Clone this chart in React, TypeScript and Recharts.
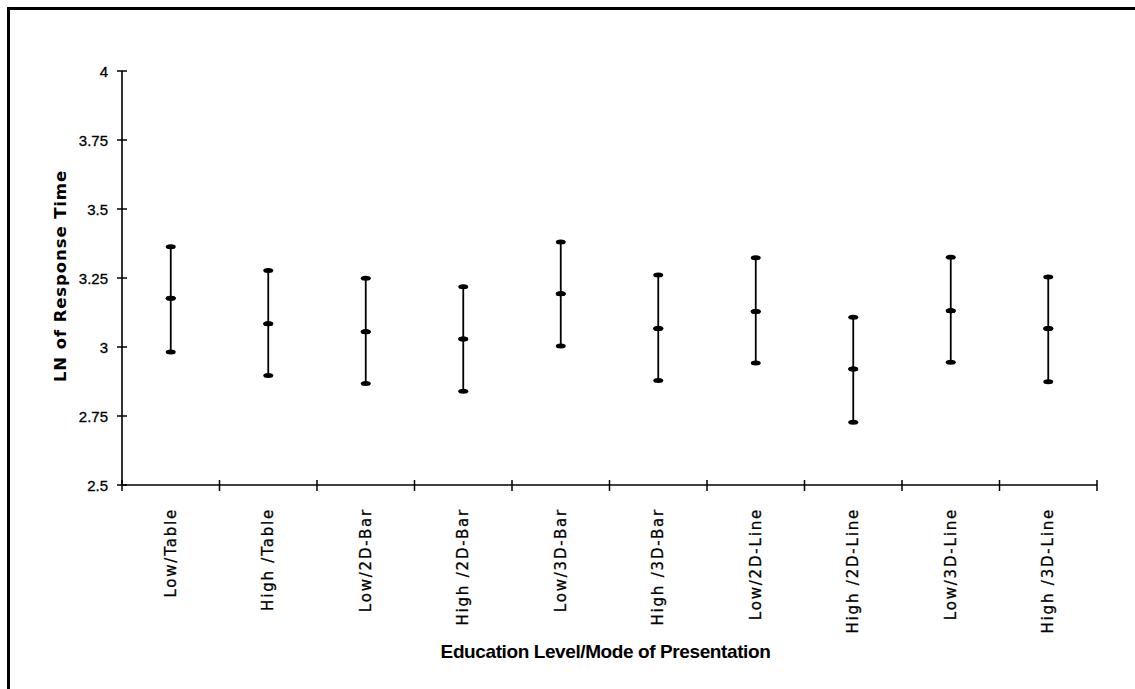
import React from "react";
import { ScatterChart, Scatter, XAxis, YAxis, ErrorBar, Label } from "recharts";

const categories = [
  "Low/Table",
  "High /Table",
  "Low/2D-Bar",
  "High /2D-Bar",
  "Low/3D-Bar",
  "High /3D-Bar",
  "Low/2D-Line",
  "High /2D-Line",
  "Low/3D-Line",
  "High /3D-Line",
];
const means = [3.177, 3.084, 3.055, 3.029, 3.193, 3.067, 3.129, 2.92, 3.131, 3.067];
const lows = [2.982, 2.897, 2.868, 2.84, 3.004, 2.879, 2.942, 2.727, 2.945, 2.874];
const highs = [3.363, 3.277, 3.249, 3.218, 3.38, 3.261, 3.323, 3.108, 3.325, 3.254];
const yTicks = [2.5, 2.75, 3, 3.25, 3.5, 3.75, 4];
const xTitle = "Education Level/Mode of Presentation";
const yTitle = "LN of Response Time";

const meanData = categories.map((c, i) => ({
  x: i + 0.5,
  y: means[i],
  err: [means[i] - lows[i], highs[i] - means[i]],
}));
const lowData = categories.map((c, i) => ({ x: i + 0.5, y: lows[i] }));
const highData = categories.map((c, i) => ({ x: i + 0.5, y: highs[i] }));
const xTickValues: number[] = [];
for (let i = 0; i <= categories.length * 2; i++) xTickValues.push(i / 2);

const Cap = (props: any) => {
  const { cx, cy } = props;
  if (cx == null || cy == null) return null;
  return <ellipse cx={cx} cy={cy} rx={5} ry={2.5} fill="#000" />;
};

const XTick = (props: any) => {
  const { x, y, payload } = props;
  const v = payload.value;
  if (Number.isInteger(v)) {
    return <line x1={x} x2={x} y1={y - 5} y2={y + 6} stroke="#000" strokeWidth={1.5} />;
  }
  const label = categories[Math.floor(v)];
  return (
    <text
      x={x}
      y={y + 23}
      transform={`rotate(-90, ${x}, ${y + 23})`}
      textAnchor="end"
      dominantBaseline="central"
      fontFamily="DejaVu Sans"
      fontSize={15}
      letterSpacing={1.8}
      stroke="#000"
      strokeWidth={0.3}
      fill="#000"
    >
      {label}
    </text>
  );
};

const YTick = (props: any) => {
  const { x, y, payload } = props;
  const v = payload.value;
  return (
    <g>
      <line x1={x - 5} x2={x + 5} y1={y} y2={y} stroke="#000" strokeWidth={1.5} />
      <text
        x={x - 14}
        y={y}
        textAnchor="end"
        dominantBaseline="central"
        fontFamily="Liberation Sans"
        fontSize={15}
        stroke="#000"
        strokeWidth={0.3}
        fill="#000"
      >
        {String(v)}
      </text>
    </g>
  );
};

const YTitle = (props: any) => {
  const vb = props.viewBox;
  const cx = vb.x + 8;
  const cy = vb.y + vb.height / 2 - 2;
  return (
    <text
      x={cx}
      y={cy}
      transform={`rotate(-90, ${cx}, ${cy})`}
      textAnchor="middle"
      dominantBaseline="central"
      fontFamily="DejaVu Sans"
      fontWeight="bold"
      fontSize={16.5}
      letterSpacing={0.9}
      fill="#000"
    >
      {yTitle}
    </text>
  );
};

const XTitle = (props: any) => {
  const vb = props.viewBox;
  return (
    <text
      x={vb.x + vb.width / 2 - 4}
      y={vb.y + vb.height + 33}
      textAnchor="middle"
      fontFamily="Liberation Sans"
      fontWeight="bold"
      fontSize={19}
      letterSpacing={-0.4}
      fill="#000"
    >
      {xTitle}
    </text>
  );
};

export default function App() {
  return (
    <div style={{ position: "absolute", left: 0, top: 0, width: 1135, height: 689, background: "#fff", overflow: "hidden" }}>
      <div
        style={{
          position: "absolute",
          left: 7,
          top: 7,
          width: 1135,
          height: 689,
          borderLeft: "3px solid #000",
          borderTop: "3px solid #000",
          boxSizing: "border-box",
        }}
      />
      <div style={{ position: "absolute", left: 0, top: 0 }}>
        <ScatterChart width={1135} height={689} margin={{ top: 71, right: 38, bottom: 64, left: 52 }}>
          <XAxis
            type="number"
            dataKey="x"
            domain={[0, categories.length]}
            ticks={xTickValues}
            interval={0}
            tick={<XTick />}
            tickLine={false}
            tickSize={0}
            tickMargin={0}
            height={140}
            axisLine={{ stroke: "#000", strokeWidth: 1.6 }}
            allowDataOverflow
          >
            <Label content={<XTitle />} />
          </XAxis>
          <YAxis
            type="number"
            dataKey="y"
            domain={[2.5, 4]}
            ticks={yTicks}
            interval={0}
            tick={<YTick />}
            tickLine={false}
            tickSize={0}
            tickMargin={0}
            width={70}
            axisLine={{ stroke: "#000", strokeWidth: 1.6 }}
            allowDataOverflow
          >
            <Label content={<YTitle />} />
          </YAxis>
          <Scatter data={meanData} shape={<Cap />} isAnimationActive={false}>
            <ErrorBar dataKey="err" direction="y" width={0} stroke="#000" strokeWidth={1.8} isAnimationActive={false} />
          </Scatter>
          <Scatter data={lowData} shape={<Cap />} isAnimationActive={false} />
          <Scatter data={highData} shape={<Cap />} isAnimationActive={false} />
          <Scatter data={meanData} shape={<Cap />} isAnimationActive={false} />
        </ScatterChart>
      </div>
    </div>
  );
}
